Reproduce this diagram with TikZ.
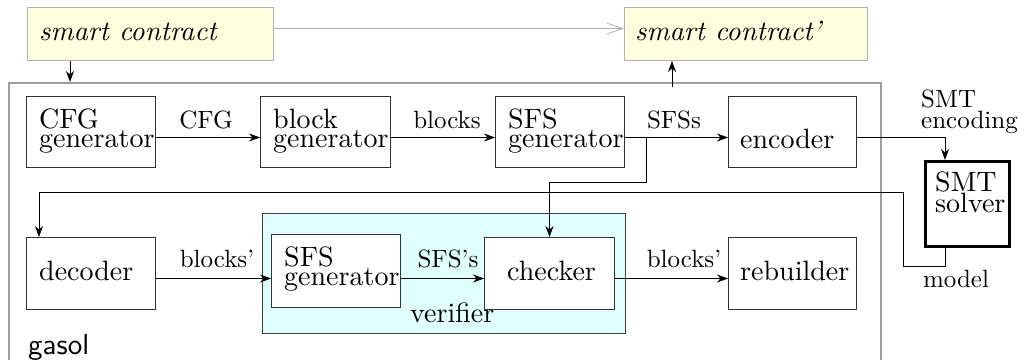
\documentclass[tikz,border=0pt]{standalone}
\usepackage{fontspec}
\setmainfont{lmroman10-regular}[Extension=.otf, ItalicFont=lmroman10-italic, BoldFont=lmroman10-bold, Ligatures=TeX]
\setsansfont{lmsans10-regular}[Extension=.otf, Ligatures=TeX]
\usetikzlibrary{arrows.meta}
\definecolor{ly}{HTML}{FFFFE0}
\definecolor{lc}{HTML}{E0FFFF}
\begin{document}
\begin{tikzpicture}[x=1pt,y=-1pt,
  box/.style={draw=black!80, line width=1pt, inner sep=0pt, anchor=north west},
  srcbox/.style={draw=black!30, fill=ly, line width=1pt, inner sep=0pt, anchor=north west},
  txt/.style={font=\fontsize{28}{19}\selectfont, inner sep=0pt, align=left, anchor=base west},
  lbl/.style={font=\fontsize{25}{21}\selectfont, inner sep=0pt, anchor=base},
  arr/.style={draw=black, line width=0.9pt, -{Stealth[length=11pt,width=8pt]}},
]
\useasboundingbox (0,0) rectangle (1027,359);
\clip (0,0) rectangle (1027,359);

% top boxes
\node[srcbox, minimum width=246pt, minimum height=53pt] (sc) at (27,7) {};
\node[txt, font=\fontsize{28}{19}\selectfont\itshape] (sct) at ([xshift=12pt,yshift=-33pt]sc.north west) {smart contract};
\node[srcbox, minimum width=243pt, minimum height=53pt] (sc2) at (624,7) {};
\node[txt, font=\fontsize{28}{19}\selectfont\itshape] (sc2t) at ([xshift=11pt,yshift=-33pt]sc2.north west) {smart contract'};
\draw[draw=black!30, line width=0.8pt, -{Straight Barb[length=16pt,width=11pt]}] ([yshift=5.5pt]sc.east) -- ([yshift=5.5pt]sc2.west);

% gasol container
\node[draw=black!38, line width=1.5pt, inner sep=0pt, anchor=north west, minimum width=872pt, minimum height=300pt] (gasol) at (8,82) {};
\node[font=\fontsize{29}{30}\selectfont\sffamily, inner sep=0pt, anchor=base west] (gasolt) at (28,354) {gasol};

\coordinate (c1) at (70,0);
\coordinate (c2) at (672,0);
\draw[arr] (sc.south -| c1) -- (gasol.north -| c1);
\draw[arr] ([yshift=-5pt]gasol.north -| c2) -- (sc2.south -| c2);

% row 1
\node[box, minimum width=129pt, minimum height=71pt] (cfg) at (26,96) {};
\node[txt] (cfgt) at ([xshift=13pt,yshift=-51pt]cfg.north west) {CFG\\generator};
\node[box, minimum width=130pt, minimum height=71pt] (blk) at (260,96) {};
\node[txt] (blkt) at ([xshift=13pt,yshift=-51pt]blk.north west) {block\\generator};
\node[box, minimum width=129pt, minimum height=71pt] (sfsa) at (495,96) {};
\node[txt] (sfsat) at ([xshift=13pt,yshift=-51pt]sfsa.north west) {SFS\\generator};
\node[box, minimum width=128pt, minimum height=71pt] (enc) at (728,96) {};
\node[txt] (enct) at ([xshift=12pt,yshift=-52pt]enc.north west) {encoder};

\draw[arr] ([yshift=-5.5pt]cfg.east) -- ([yshift=-5.5pt]blk.west);
\draw[arr] ([yshift=-5.5pt]blk.east) -- ([yshift=-5.5pt]sfsa.west);
\draw[arr] ([yshift=-5.5pt]sfsa.east) -- ([yshift=-5.5pt]enc.west);
\node[lbl] (l1) at (206,128) {CFG};
\node[lbl] (l2) at (447,128) {blocks};
\node[lbl] (l3) at (674,128) {SFSs};

% SMT solver
\node[draw=black, line width=3pt, inner sep=0pt, anchor=north west, minimum width=84pt, minimum height=85pt] (smt) at (924,160) {};
\node[txt, font=\fontsize{28}{21}\selectfont] (smtt) at ([xshift=11pt,yshift=-52pt]smt.north west) {SMT\\solver};
\draw[arr] ([yshift=-5.5pt]enc.east) -| ([xshift=21pt]smt.north west);
\node[lbl, align=left, anchor=base west] (l4) at (921,128) {SMT\\encoding};

% row 2
\node[draw=black!75, fill=lc, line width=0.9pt, inner sep=0pt, anchor=north west, minimum width=363pt, minimum height=120pt] (ver) at (262,213) {};
\node[txt] (vert) at (410,322) {verifier};
\node[box, minimum width=129pt, minimum height=72pt] (dec) at (26,237) {};
\node[txt] (dect) at ([xshift=13pt,yshift=-43pt]dec.north west) {decoder};
\node[box, fill=white, minimum width=129pt, minimum height=73pt] (sfsb) at (271,234) {};
\node[txt] (sfsbt) at ([xshift=13pt,yshift=-51pt]sfsb.north west) {SFS\\generator};
\node[box, fill=white, minimum width=130pt, minimum height=72pt] (chk) at (484,237) {};
\node[txt] (chkt) at ([xshift=23pt,yshift=-43pt]chk.north west) {checker};
\node[box, minimum width=128pt, minimum height=72pt] (reb) at (728,237) {};
\node[txt] (rebt) at ([xshift=12pt,yshift=-43pt]reb.north west) {rebuilder};

\draw[arr] ([yshift=-5pt]dec.east) -- ([yshift=-7.5pt]sfsb.west);
\draw[arr] ([yshift=-7.5pt]sfsb.east) -- ([yshift=-5pt]chk.west);
\draw[arr] ([yshift=-5pt]chk.east) -- ([yshift=-5pt]reb.west);
\node[lbl] (l5) at (217,267) {blocks'};
\node[lbl] (l6) at (448,267) {SFS's};
\node[lbl] (l7) at (684,267) {blocks'};

% SFSs branch to checker
\draw[arr] ([xshift=21pt,yshift=-5.5pt]sfsa.east) -- ++(0,45) -| (chk.north);

% model feedback
\coordinate (m1) at (903,266);
\coordinate (m2) at (903,192);
\draw[arr] ([xshift=21pt]smt.south west) |- (m1) -- (m2) -| ([xshift=13pt]dec.north west);
\node[lbl] (l8) at (956,287) {model};
\end{tikzpicture}
\end{document}
